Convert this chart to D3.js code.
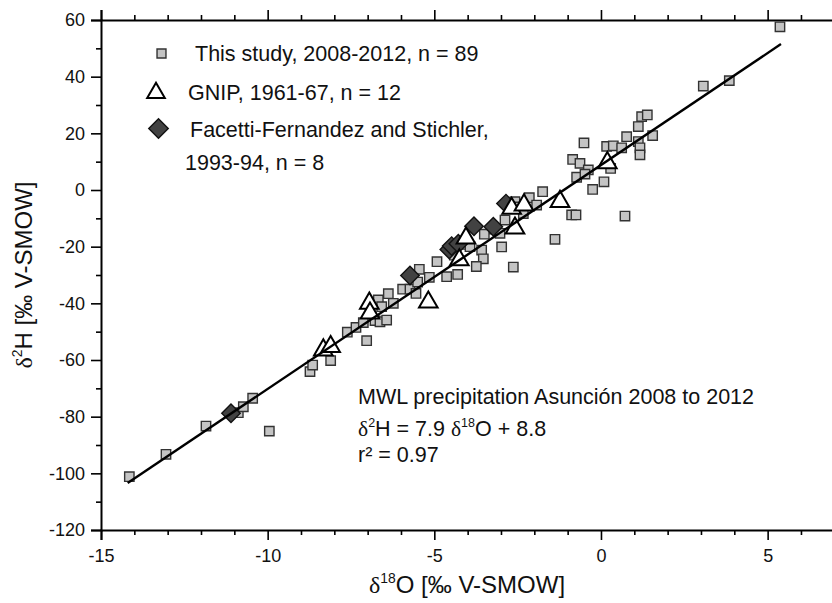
<!DOCTYPE html>
<html><head><meta charset="utf-8">
<script src="https://cdn.jsdelivr.net/npm/d3@7"></script>
<style>
body{margin:0;background:#fff}
svg{display:block}
text{font-family:"Liberation Sans",Arial,sans-serif;fill:#111}
</style>
</head><body>
<svg id="c" width="832" height="603"></svg>
<script>
// ---- data ----
const studyO = [-14.15,-13.05,-11.85,-10.88,-10.73,-10.45,-9.95,-8.73,-8.65,-8.11,-7.61,-7.35,-7.13,-7.03,-6.78,-6.63,-6.43,-6.68,-6.58,-6.38,-6.23,-5.95,-5.73,-5.55,-5.45,-5.5,-5.15,-4.92,-4.63,-4.3,-4.4,-4.1,-3.93,-3.58,-3.53,-3.74,-3.5,-3.2,-3.03,-2.98,-2.88,-2.63,-2.58,-2.45,-2.33,-2.15,-1.93,-1.75,-1.38,-0.88,-0.75,-0.85,-0.63,-0.38,-0.73,-0.48,-0.51,-0.25,0.09,0.29,0.17,0.37,0.62,0.77,1.12,1.22,1.39,1.55,1.12,1.17,1.17,0.72,3.07,3.85,5.37];
const studyH = [-101.2,-93.3,-83.3,-78.6,-76.5,-73.5,-85.1,-64.1,-61.8,-60.2,-50.2,-48.5,-46.8,-53.2,-46.1,-46.5,-45.9,-38.8,-41.2,-36.6,-40,-35,-35,-36.5,-28,-32.5,-30.8,-25.3,-30.6,-29.8,-23.0,-19.2,-20,-21.2,-24.3,-27,-15.6,-13.8,-15.3,-20.1,-10.6,-27.2,-4.1,-6.0,-8.3,-2.7,-5.3,-0.6,-17.4,-8.8,-8.8,10.8,9.4,7.1,4.5,5.6,16.6,0.2,2.9,7.6,15.4,15.6,14.9,18.8,22.4,25.9,26.5,19.2,17.1,14.9,12.4,-9.2,36.7,38.6,57.6];
const gnipO = [-8.33,-8.11,-6.95,-6.93,-5.18,-4.25,-4.05,-2.58,-2.68,-2.31,-1.23,0.19];
const gnipH = [-56.5,-55.3,-40,-43.5,-39.6,-24.7,-17,-13.5,-6.5,-5.3,-4.1,9.6];
const facO = [-11.1,-5.73,-4.55,-4.48,-4.28,-3.81,-3.23,-2.85];
const facH = [-78.8,-30.2,-21,-19.8,-19,-12.8,-13,-4.8];
const mwlO = [-14.2, 5.4];
const mwlH = [-103.4, 51.5];
const xMajorTicks = [-15,-10,-5,0,5];
const yMajorTicks = [-120,-100,-80,-60,-40,-20,0,20,40,60];
const legendLabels = ["This study, 2008-2012, n = 89","GNIP, 1961-67, n = 12","Facetti-Fernandez and Stichler,","1993-94, n = 8"];

// ---- layout ----
const svg = d3.select("#c");
const L = 101, R = 834.3, T = 20, B = 530;
const x = d3.scaleLinear().domain([-15, 7]).range([L, R]);
const y = d3.scaleLinear().domain([-120, 60]).range([B, T]);

const xMinor = d3.range(-15, 8, 1).filter(v => !xMajorTicks.includes(v));
const yMinor = d3.range(-110, 60, 20);

function styleAxis(g){
  g.selectAll("path.domain").attr("stroke","#000").attr("stroke-width",2);
  g.selectAll(".tick line").attr("stroke","#000").attr("stroke-width",1.6);
  g.selectAll(".tick text").attr("font-size",18).attr("fill","#111").attr("font-family","'Liberation Sans',Arial,sans-serif");
}
const fmt = d => String(d);

// bottom axis
svg.append("g").attr("transform",`translate(0,${B})`)
  .call(d3.axisBottom(x).tickValues(xMajorTicks).tickSize(10).tickPadding(9).tickFormat(fmt)).call(styleAxis);
svg.append("g").attr("transform",`translate(0,${B})`)
  .call(d3.axisBottom(x).tickValues(xMinor).tickSize(5).tickFormat("")).call(styleAxis)
  .select("path.domain").remove();
// top axis
svg.append("g").attr("transform",`translate(0,${T})`)
  .call(d3.axisTop(x).tickValues(xMajorTicks).tickSize(10).tickFormat("")).call(styleAxis);
svg.append("g").attr("transform",`translate(0,${T})`)
  .call(d3.axisTop(x).tickValues(xMinor).tickSize(5).tickFormat("")).call(styleAxis)
  .select("path.domain").remove();
// left axis
svg.append("g").attr("transform",`translate(${L},0)`)
  .call(d3.axisLeft(y).tickValues(yMajorTicks).tickSize(10).tickPadding(6).tickFormat(fmt)).call(styleAxis);
svg.append("g").attr("transform",`translate(${L},0)`)
  .call(d3.axisLeft(y).tickValues(yMinor).tickSize(5).tickFormat("")).call(styleAxis)
  .select("path.domain").remove();
svg.selectAll("path.domain").attr("d", function(){ return d3.select(this).attr("d").replace(/M[^VH]*V?/, m=>m); });

// rich text helper
function rich(sel, parts, size){
  parts.forEach(p => {
    const ts = sel.append("tspan").text(p.t);
    if (p.serif) ts.attr("font-family","'Liberation Serif','DejaVu Serif',serif");
    if (p.sup) ts.attr("font-size", size*0.58).attr("dy", -size*0.42);
    if (p.down) ts.attr("dy", size*0.42);
  });
}

// points
const sq = d3.symbol().type(d3.symbolSquare).size(88);
const tri = d3.symbol().type(d3.symbolTriangle).size(150);
const dia = d3.symbol().type(d3.symbolSquare).size(170);

svg.append("g").selectAll("path").data(studyO.map((o,i)=>({o, h: studyH[i]})))
  .join("path").attr("d", sq)
  .attr("transform", d=>`translate(${x(d.o)},${y(d.h)})`)
  .attr("fill","#c4c4c4").attr("stroke","#333").attr("stroke-width",1.4);

svg.append("g").selectAll("path").data(facO.map((o,i)=>({o, h: facH[i]})))
  .join("path").attr("d", dia)
  .attr("transform", d=>`translate(${x(d.o)},${y(d.h)}) rotate(45)`)
  .attr("fill","#424242").attr("stroke","#111").attr("stroke-width",1.4);

svg.append("g").selectAll("path").data(gnipO.map((o,i)=>({o, h: gnipH[i]})))
  .join("path").attr("d", tri)
  .attr("transform", d=>`translate(${x(d.o)},${y(d.h)})`)
  .attr("fill","#fff").attr("stroke","#000").attr("stroke-width",2);

// regression line
svg.append("path")
  .datum(mwlO.map((o,i)=>[o, mwlH[i]]))
  .attr("d", d3.line().x(d=>x(d[0])).y(d=>y(d[1])))
  .attr("fill","none").attr("stroke","#000").attr("stroke-width",2.4);

// legend
const lg = svg.append("g");
lg.append("path").attr("d", d3.symbol().type(d3.symbolSquare).size(80)())
  .attr("transform","translate(161.5,53.5)").attr("fill","#c4c4c4").attr("stroke","#333").attr("stroke-width",1.4);
lg.append("path").attr("d", d3.symbol().type(d3.symbolTriangle).size(135)())
  .attr("transform","translate(156,93)").attr("fill","#fff").attr("stroke","#000").attr("stroke-width",2);
lg.append("path").attr("d", d3.symbol().type(d3.symbolSquare).size(190)())
  .attr("transform","translate(158.5,128.5) rotate(45)").attr("fill","#424242").attr("stroke","#111").attr("stroke-width",1.4);
const legPos = [[195,61],[188,100],[190,137],[185,170]];
legendLabels.forEach((t,i)=>{
  lg.append("text").attr("x",legPos[i][0]).attr("y",legPos[i][1]).attr("font-size",21.5).text(t);
});

// annotation
const ann = svg.append("g").attr("font-size",21.5);
ann.append("text").attr("x",358).attr("y",404).text("MWL precipitation Asunción 2008 to 2012");
const eq = ann.append("text").attr("x",358).attr("y",436);
rich(eq,[{t:"δ",serif:true},{t:"2",sup:true},{t:"H = 7.9 ",down:true},{t:"δ",serif:true},{t:"18",sup:true},{t:"O + 8.8",down:true}],21.5);
ann.append("text").attr("x",358).attr("y",462).text("r² = 0.97");

// axis titles
const xt = svg.append("text").attr("x",467).attr("y",593).attr("text-anchor","middle").attr("font-size",24);
rich(xt,[{t:"δ",serif:true},{t:"18",sup:true},{t:"O [‰ V-SMOW]",down:true}],24);
const yt = svg.append("text").attr("transform","translate(32,275) rotate(-90)").attr("text-anchor","middle").attr("font-size",24);
rich(yt,[{t:"δ",serif:true},{t:"2",sup:true},{t:"H [‰ V-SMOW]",down:true}],24);
</script>
</body></html>
